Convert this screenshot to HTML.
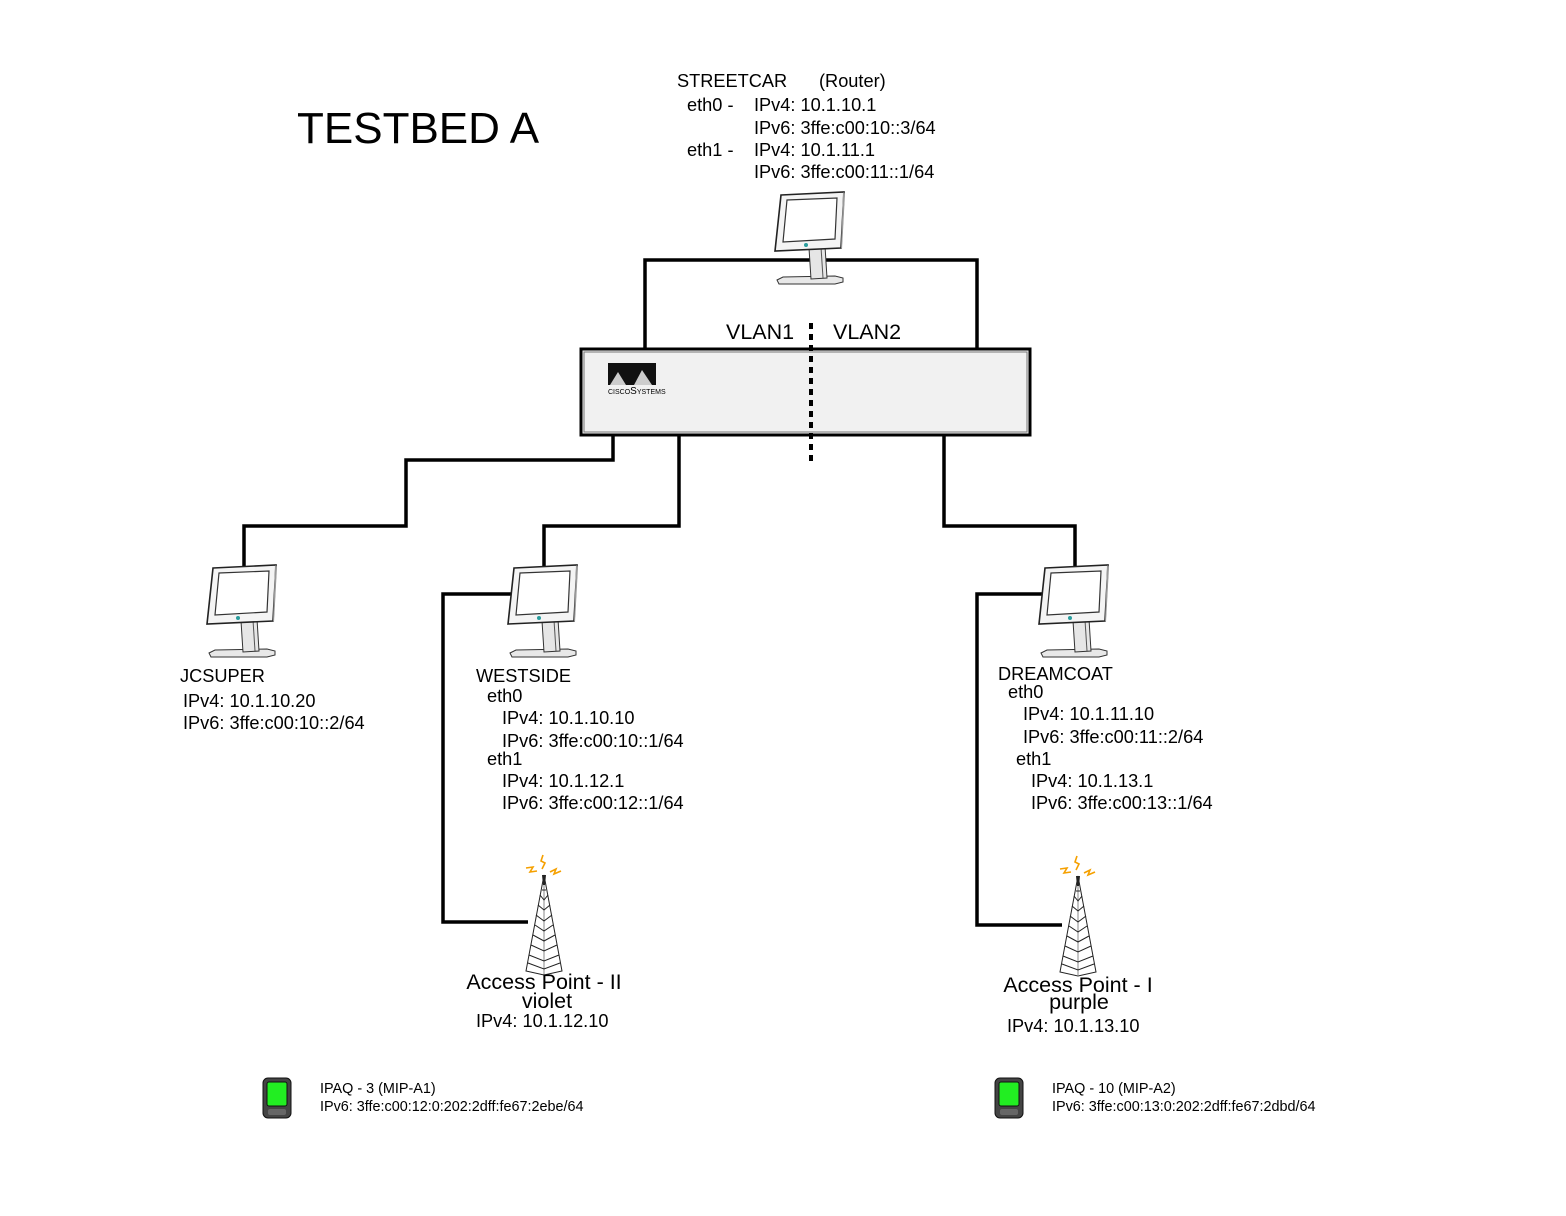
<!DOCTYPE html>
<html><head><meta charset="utf-8"><style>
html,body{margin:0;padding:0;background:#fff;}
svg{display:block;}
text{font-family:"Liberation Sans",Arial,sans-serif;fill:#000;}
</style></head><body>
<svg width="1566" height="1216" viewBox="0 0 1566 1216" xmlns="http://www.w3.org/2000/svg">
<defs>
<symbol id="mon" viewBox="0 0 72 94" width="72" height="94" overflow="visible">
  <polygon points="2,88 8,85 60,84 68,86 68,90 60,92 4,92" fill="#e8e8e8" stroke="#333" stroke-width="1"/>
  <polygon points="34,56 50,54 52,86 36,87" fill="#e6e6e6" stroke="#333" stroke-width="1"/>
  <line x1="46" y1="55" x2="48" y2="86" stroke="#555" stroke-width="1"/>
  <polygon points="6,3 69,0 66,56 0,59" fill="#f4f4f4" stroke="#222" stroke-width="1.6"/>
  <polygon points="68,0 70,2 67,57 66,56" fill="#999"/>
  <polygon points="12,8 62,6 60,47 8,50" fill="#fff" stroke="#333" stroke-width="1.2"/>
  <circle cx="31" cy="53" r="2" fill="#2a9d9d"/>
</symbol>
<symbol id="tower" viewBox="0 0 40 120" width="40" height="120" overflow="visible">
  <g stroke="#f5a000" stroke-width="1.6" fill="none">
    <polyline points="19,0 17,6 21,8 18,14"/>
    <polyline points="2,13 9,12 6,17 13,16"/>
    <polyline points="26,17 32,14 30,19 37,16"/>
  </g>
  <g stroke="#222" stroke-width="1" fill="none">
    <polygon points="20,20 38,116 20,120 2,116" fill="#fff"/>
    <line x1="20" y1="20" x2="20" y2="120" stroke="#888"/>
    <line x1="18" y1="35" x2="22" y2="35"/>
    <polyline points="16,40 20,45 24,40"/>
    <polyline points="14,50 20,55 26,50"/>
    <polyline points="12,60 20,66 28,60"/>
    <polyline points="11,70 20,76 29,70"/>
    <polyline points="9,80 20,86 31,80"/>
    <polyline points="7,90 20,96 33,90"/>
    <polyline points="5,100 20,106 35,100"/>
    <polyline points="4,108 20,114 36,108"/>
  </g>
  <polygon points="18,20 22,20 21,30 19,30" fill="#222"/>
</symbol>
<symbol id="ipaq" viewBox="0 0 32 44" width="32" height="44" overflow="visible">
  <rect x="1" y="1" width="28" height="40" rx="5" fill="#444" stroke="#111"/>
  <rect x="5" y="5" width="20" height="24" rx="2" fill="#22ee22" stroke="#111"/>
  <rect x="6" y="32" width="18" height="6" rx="2" fill="#666"/>
</symbol>
</defs>

<text x="297" y="143" font-size="44">TESTBED A</text>

<g font-size="18.2">
<text x="677" y="87">STREETCAR</text><text x="819" y="87">(Router)</text>
<text x="687" y="111">eth0 -</text><text x="754" y="111">IPv4: 10.1.10.1</text>
<text x="754" y="134">IPv6: 3ffe:c00:10::3/64</text>
<text x="687" y="156">eth1 -</text><text x="754" y="156">IPv4: 10.1.11.1</text>
<text x="754" y="178">IPv6: 3ffe:c00:11::1/64</text>
</g>

<g stroke="#000" stroke-width="3.5" fill="none">
<polyline points="645,352 645,260 977,260 977,352"/>
<polyline points="613,435 613,460 406,460 406,526 244,526 244,568"/>
<polyline points="679,435 679,526 544,526 544,568"/>
<polyline points="944,435 944,526 1075,526 1075,568"/>
<polyline points="515,594 443,594 443,922 528,922"/>
<polyline points="1046,594 977,594 977,925 1062,925"/>
</g>

<use href="#mon" x="775" y="192"/>

<rect x="581" y="349" width="449" height="86" fill="#f1f1f1" stroke="#000" stroke-width="3"/>
<rect x="584" y="352" width="443" height="80" fill="none" stroke="#777" stroke-width="1"/>
<rect x="608" y="363" width="48" height="22" fill="#111"/>
<polygon points="610,385 618,372 626,385 634,385 642,370 652,385" fill="#ccc"/>
<text x="608" y="394" font-size="7">CISCO<tspan font-size="10">S</tspan>YSTEMS</text>
<line x1="811" y1="323" x2="811" y2="462" stroke="#000" stroke-width="4" stroke-dasharray="6,5"/>
<text x="726" y="339" font-size="21.5">VLAN1</text>
<text x="833" y="339" font-size="21.5">VLAN2</text>

<use href="#mon" x="207" y="565"/>
<use href="#mon" x="508" y="565"/>
<use href="#mon" x="1039" y="565"/>

<g font-size="18.2">
<text x="180" y="682">JCSUPER</text>
<text x="183" y="707">IPv4: 10.1.10.20</text>
<text x="183" y="729">IPv6: 3ffe:c00:10::2/64</text>

<text x="476" y="682">WESTSIDE</text>
<text x="487" y="702">eth0</text>
<text x="502" y="724">IPv4: 10.1.10.10</text>
<text x="502" y="747">IPv6: 3ffe:c00:10::1/64</text>
<text x="487" y="765">eth1</text>
<text x="502" y="787">IPv4: 10.1.12.1</text>
<text x="502" y="809">IPv6: 3ffe:c00:12::1/64</text>

<text x="998" y="680">DREAMCOAT</text>
<text x="1008" y="698">eth0</text>
<text x="1023" y="720">IPv4: 10.1.11.10</text>
<text x="1023" y="743">IPv6: 3ffe:c00:11::2/64</text>
<text x="1016" y="765">eth1</text>
<text x="1031" y="787">IPv4: 10.1.13.1</text>
<text x="1031" y="809">IPv6: 3ffe:c00:13::1/64</text>
</g>

<use href="#tower" x="524" y="855"/>
<use href="#tower" x="1058" y="856"/>

<g font-size="21.5" text-anchor="middle">
<text x="544" y="989">Access Point - II</text>
<text x="547" y="1008">violet</text>
<text x="1078" y="992">Access Point - I</text>
<text x="1079" y="1009">purple</text>
</g>
<g font-size="18.2">
<text x="476" y="1027">IPv4:  10.1.12.10</text>
<text x="1007" y="1032">IPv4:  10.1.13.10</text>
</g>

<use href="#ipaq" x="262" y="1077"/>
<use href="#ipaq" x="994" y="1077"/>
<g font-size="14.4">
<text x="320" y="1093">IPAQ - 3 (MIP-A1)</text>
<text x="320" y="1111">IPv6: 3ffe:c00:12:0:202:2dff:fe67:2ebe/64</text>
<text x="1052" y="1093">IPAQ - 10 (MIP-A2)</text>
<text x="1052" y="1111">IPv6: 3ffe:c00:13:0:202:2dff:fe67:2dbd/64</text>
</g>
</svg>
</body></html>
